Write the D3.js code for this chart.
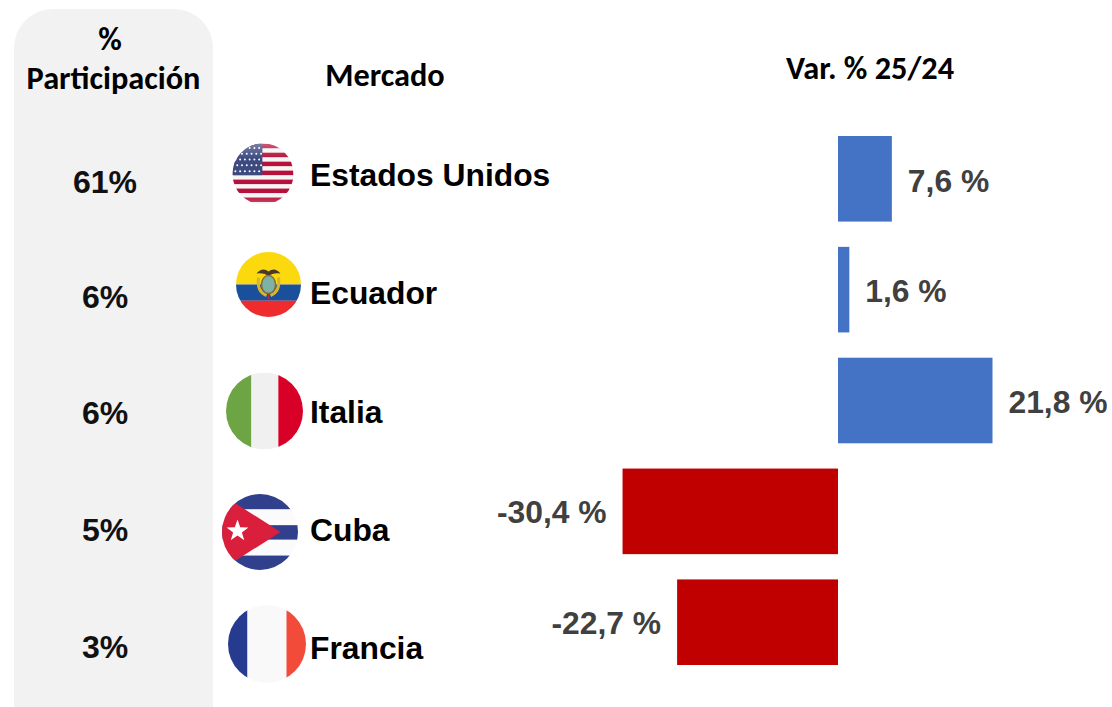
<!DOCTYPE html>
<html><head><meta charset="utf-8">
<script src="https://cdn.jsdelivr.net/npm/d3@7"></script>
<style>html,body{margin:0;padding:0;background:#fff}svg{display:block}</style>
</head><body><svg id="c" width="1112" height="707"></svg>
<script>
const markets = ["Estados Unidos","Ecuador","Italia","Cuba","Francia"];
const shares = [61,6,6,5,3];
const variation = [7.6,1.6,21.8,-30.4,-22.7];

const svg = d3.select("#c");
const W=1112,H=707;
const sans='"Liberation Sans",Arial,sans-serif', head='Carlito,Lato,sans-serif';
const x = d3.scaleLinear().domain([0,21.8]).range([838,992.5]);
const y = d3.scaleBand().domain(markets).range([136,665]).paddingInner(0.228).paddingOuter(0);
const fmt = v => String(v).replace(".",",")+" %";

// left panel
svg.append("path").attr("fill","#f2f2f2")
  .attr("d",`M14 ${H}V48a39 39 0 0 1 39-39H174a39 39 0 0 1 39 39V${H}Z`);

const title=(t,xx,yy,s)=>svg.append("text").attr("x",xx).attr("y",yy).attr("text-anchor","middle")
  .attr("font-family",head).attr("font-weight",700).attr("font-size",s).attr("fill","#000").text(t);
title("%",110,50,32.3);
title("Participación",113.5,89,32.3);
title("Mercado",385,86,32.3);
title("Var. % 25/24",870,79,32.3);

// shares
svg.append("g").selectAll("text").data(markets).join("text")
  .attr("x",105).attr("y",(d,i)=>[193,308,424,541,658][i])
  .attr("text-anchor","middle").attr("font-family",sans).attr("font-weight",700)
  .attr("font-size",32).attr("fill","#111").text((d,i)=>shares[i]+"%");

// market names
svg.append("g").selectAll("text").data(markets).join("text")
  .attr("x",310).attr("y",(d,i)=>[186,304,423,541,659][i])
  .attr("font-family",sans).attr("font-weight",700).attr("font-size",31.8)
  .attr("fill","#000").text(d=>d);

// bars
svg.append("g").selectAll("rect").data(markets).join("rect")
  .attr("x",(d,i)=>Math.min(x(0),x(variation[i])))
  .attr("y",d=>y(d)).attr("height",y.bandwidth())
  .attr("width",(d,i)=>Math.abs(x(variation[i])-x(0)))
  .attr("fill",(d,i)=>variation[i]>=0?"#4472c4":"#c00000");

// value labels
svg.append("g").selectAll("text").data(markets).join("text")
  .attr("x",(d,i)=>variation[i]>=0?x(variation[i])+16:x(variation[i])-16)
  .attr("y",(d,i)=>[192,302,413,523,634][i])
  .attr("text-anchor",(d,i)=>variation[i]>=0?"start":"end")
  .attr("font-family",sans).attr("font-weight",700).attr("font-size",31.8)
  .attr("fill","#404040").text((d,i)=>fmt(variation[i]));

// flags
const flagPos={us:[263,174,30.5],ec:[268.5,284.5,32.5],it:[264.5,411,38.5],cu:[260,532,38],fr:[267,644,39]};
const defs=svg.append("defs");
const lg=defs.append("linearGradient").attr("id","shade").attr("x1",0).attr("y1",0).attr("x2",0).attr("y2",1);
lg.append("stop").attr("offset",0).attr("stop-color","#fff").attr("stop-opacity",.3);
lg.append("stop").attr("offset",.25).attr("stop-color","#fff").attr("stop-opacity",0);
lg.append("stop").attr("offset",.85).attr("stop-color","#fff").attr("stop-opacity",0);
lg.append("stop").attr("offset",1).attr("stop-color","#fff").attr("stop-opacity",.25);

function flag(key,draw){
  const [cx,cy0,r]=flagPos[key];
  defs.append("clipPath").attr("id","clip-"+key).append("circle").attr("cx",cx).attr("cy",cy0).attr("r",r);
  const g=svg.append("g").attr("clip-path",`url(#clip-${key})`);
  const R=(a,b,c,d,f)=>g.append("rect").attr("x",cx-r+a*2*r).attr("y",cy0-r+b*2*r).attr("width",(c-a)*2*r).attr("height",(d-b)*2*r).attr("fill",f);
  draw(g,R,cx,cy0,r);
}
const star=(g,cx,cy0,o,inner,fill)=>{
  const pts=d3.range(10).map(i=>{const a=-Math.PI/2+i*Math.PI/5,q=i%2?inner:o;return [cx+q*Math.cos(a),cy0+q*Math.sin(a)]});
  g.append("polygon").attr("points",pts.map(p=>p.join(",")).join(" ")).attr("fill",fill);
};
flag("us",(g,R,cx,cy0,r)=>{
  R(0,0,1,1,"#f5f5f5");
  d3.range(7).forEach(i=>R(0,(i*2+0.05)/13.6,1,(i*2+1.05)/13.6,"#b7103a"));
  R(0,0,.49,.52,"#3c4a80");
  d3.range(5).forEach(j=>d3.range(6).forEach(i=>{
    g.append("circle").attr("cx",cx-r+(i+.6+(j%2)*.4)*.078*2*r).attr("cy",cy0-r+(j+.6)*.095*2*r+1).attr("r",1).attr("fill","#fff");
  }));
  R(0,0,1,1,"url(#shade)");
});
flag("ec",(g,R,cx,cy0,r)=>{
  R(0,0,1,.5,"#fcd90f");R(0,.5,1,.75,"#1a4f9c");R(0,.75,1,1,"#ef2b2d");
  g.append("path").attr("d",`M${cx-12} ${cy0-11}Q${cx-6} ${cy0-18} ${cx} ${cy0-13}Q${cx+6} ${cy0-18} ${cx+12} ${cy0-11}Q${cx+4} ${cy0-12} ${cx} ${cy0-8}Q${cx-4} ${cy0-12} ${cx-12} ${cy0-11}Z`).attr("fill","#4a3a2a");
  g.append("path").attr("d",`M${cx-10} ${cy0-7}Q${cx-12} ${cy0+7} ${cx-2} ${cy0+11}M${cx+10} ${cy0-7}Q${cx+12} ${cy0+7} ${cx+2} ${cy0+11}`).attr("fill","none").attr("stroke","#d8b52a").attr("stroke-width",3);
  g.append("ellipse").attr("cx",cx).attr("cy",cy0).attr("rx",7).attr("ry",9).attr("fill","#7fb2a6").attr("stroke","#8a6d2f").attr("stroke-width",1.5);
  g.append("rect").attr("x",cx-.8).attr("y",cy0+9).attr("width",1.6).attr("height",6).attr("fill","#a33");
});
flag("it",(g,R)=>{R(0,0,.33,1,"#6da544");R(.33,0,.68,1,"#f0f0f0");R(.68,0,1,1,"#d80027");});
flag("cu",(g,R,cx,cy0,r)=>{
  R(0,0,1,1,"#fbfbfb");
  R(0,0,1,.2,"#30408c");R(0,.41,1,.6,"#30408c");R(0,.81,1,1,"#30408c");
  g.append("polygon").attr("points",`${cx-r},${cy0-r*.98} ${cx-r+.77*2*r},${cy0} ${cx-r},${cy0+r*.98}`).attr("fill","#d91f3c");
  star(g,cx-r+15.5,cy0-1,11.5,4.6,"#fff");
});
flag("fr",(g,R)=>{R(0,0,.25,1,"#263b8f");R(.25,0,.75,1,"#f9f9f9");R(.75,0,1,1,"#f34b3a");});
</script></body></html>
